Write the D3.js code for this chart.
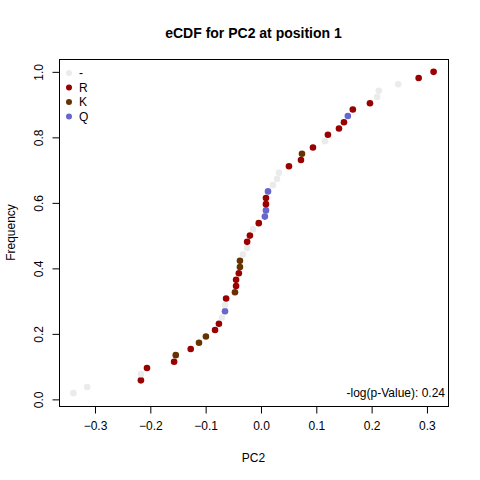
<!DOCTYPE html>
<html>
<head>
<meta charset="utf-8">
<script src="https://cdn.jsdelivr.net/npm/d3@7"></script>
<style>
  body { margin: 0; background: #fff; }
  svg { display: block; font-family: "Liberation Sans", Arial, sans-serif; }
</style>
</head>
<body>
<svg id="chart" width="480" height="480"></svg>
<script>
// values
var pc2 = [-0.339, -0.314, -0.217, -0.217, -0.206, -0.157, -0.154, -0.127, -0.112, -0.0995,
           -0.083, -0.076, -0.0705, -0.065, -0.065, -0.063, -0.047, -0.045, -0.045, -0.040,
           -0.038, -0.038, -0.0325, -0.025, -0.025, -0.020, -0.0145, -0.004, 0.007, 0.009,
           0.009, 0.009, 0.0127, 0.0217, 0.029, 0.0325, 0.0506, 0.0723, 0.0741, 0.094,
           0.1157, 0.121, 0.141, 0.150, 0.157, 0.166, 0.197, 0.210, 0.213, 0.248,
           0.285, 0.312];
var freq = [0.019, 0.038, 0.058, 0.077, 0.096, 0.115, 0.135, 0.154, 0.173, 0.192,
            0.212, 0.231, 0.250, 0.269, 0.288, 0.308, 0.327, 0.346, 0.365, 0.385,
            0.404, 0.423, 0.442, 0.462, 0.481, 0.500, 0.519, 0.538, 0.558, 0.577,
            0.596, 0.615, 0.635, 0.654, 0.673, 0.692, 0.712, 0.731, 0.750, 0.769,
            0.788, 0.808, 0.827, 0.846, 0.865, 0.885, 0.904, 0.923, 0.942, 0.962,
            0.981, 1.000];
var residue = ['-', '-', 'R', '-', 'R', 'R', 'K', 'R', 'K', 'K',
               'R', 'R', '-', 'Q', '-', 'R', 'K', 'R', 'R', 'R',
               'K', 'K', '-', '-', 'R', 'R', '-', 'R', 'Q', 'Q',
               'R', 'R', 'Q', '-', '-', '-', 'R', 'R', 'K', 'R',
               '-', 'R', 'R', 'R', 'Q', 'R', 'R', '-', '-', '-',
               'R', 'R'];
var categories = ['-', 'R', 'K', 'Q'];
var catColors = ['#ebebeb', '#990000', '#663300', '#6666cc'];
var xTicks = [-0.3, -0.2, -0.1, 0.0, 0.1, 0.2, 0.3];
var yTicks = [0.0, 0.2, 0.4, 0.6, 0.8, 1.0];
var title = 'eCDF for PC2 at position 1';
var note = '-log(p-Value): 0.24';

var W = 480, H = 480;
var margin = {top: 59, right: 32, bottom: 74, left: 59};
var svg = d3.select('#chart');

// R style 4% padding around the data range
function padded(vals) {
  var e = d3.extent(vals), p = (e[1] - e[0]) * 0.04;
  return [e[0] - p, e[1] + p];
}

var x = d3.scaleLinear().domain(padded(pc2)).range([margin.left, W - margin.right]);
var y = d3.scaleLinear().domain(padded(freq)).range([H - margin.bottom, margin.top]);
var color = d3.scaleOrdinal().domain(categories).range(catColors);

var data = pc2.map(function(v, i) { return {x: v, y: freq[i], r: residue[i]}; });

// box
svg.append('rect')
  .attr('x', margin.left + 0.5).attr('y', margin.top + 0.5)
  .attr('width', W - margin.left - margin.right)
  .attr('height', H - margin.top - margin.bottom)
  .attr('fill', 'none').attr('stroke', '#000');

var bottom = H - margin.bottom;

var xa = svg.append('g')
  .attr('transform', 'translate(0,' + (bottom + 0.5) + ')')
  .call(d3.axisBottom(x).tickValues(xTicks).tickSize(7).tickPadding(8).tickFormat(d3.format('.1f')));
xa.select('.domain').attr('d', 'M' + x(xTicks[0]) + ',0H' + x(xTicks[xTicks.length - 1]));
xa.selectAll('text').style('font-size', '12px').attr('fill', '#000');

var ya = svg.append('g')
  .attr('transform', 'translate(' + (margin.left + 0.5) + ',0)')
  .call(d3.axisLeft(y).tickValues(yTicks).tickSize(7).tickFormat(d3.format('.1f')));
ya.select('.domain').attr('d', 'M0,' + y(yTicks[0]) + 'V' + y(yTicks[yTicks.length - 1]));
ya.selectAll('text')
  .style('font-size', '12px').attr('fill', '#000')
  .attr('x', null).attr('dy', null)
  .attr('text-anchor', 'middle')
  .attr('transform', 'translate(-17,0) rotate(-90)');

// axis titles
svg.append('text')
  .attr('x', (margin.left + W - margin.right) / 2).attr('y', 462)
  .attr('text-anchor', 'middle').style('font-size', '12px')
  .text('PC2');
svg.append('text')
  .attr('transform', 'translate(15,' + ((margin.top + bottom) / 2) + ') rotate(-90)')
  .attr('text-anchor', 'middle').style('font-size', '12px')
  .text('Frequency');

svg.append('text')
  .attr('x', (margin.left + W - margin.right) / 2).attr('y', 38)
  .attr('text-anchor', 'middle')
  .style('font-size', '14px').style('font-weight', 'bold')
  .text(title);

// points
svg.append('g').selectAll('circle')
  .data(data)
  .enter().append('circle')
  .attr('cx', function(d) { return x(d.x); })
  .attr('cy', function(d) { return y(d.y); })
  .attr('r', 3.3)
  .attr('fill', function(d) { return color(d.r); });

// legend, top left
var lg = svg.append('g').attr('transform', 'translate(' + (margin.left + 10) + ',' + (margin.top + 14) + ')');
var item = lg.selectAll('g').data(categories).enter().append('g')
  .attr('transform', function(d, i) { return 'translate(0,' + (i * 14.5) + ')'; });
item.append('circle').attr('r', 3).attr('fill', function(d) { return color(d); });
item.append('text').attr('x', 10).attr('dy', '0.35em')
  .style('font-size', '12px').text(function(d) { return d; });

// note, bottom right
svg.append('text')
  .attr('x', W - margin.right - 3).attr('y', bottom - 9)
  .attr('text-anchor', 'end').style('font-size', '12px')
  .text(note);
</script>
</body>
</html>
